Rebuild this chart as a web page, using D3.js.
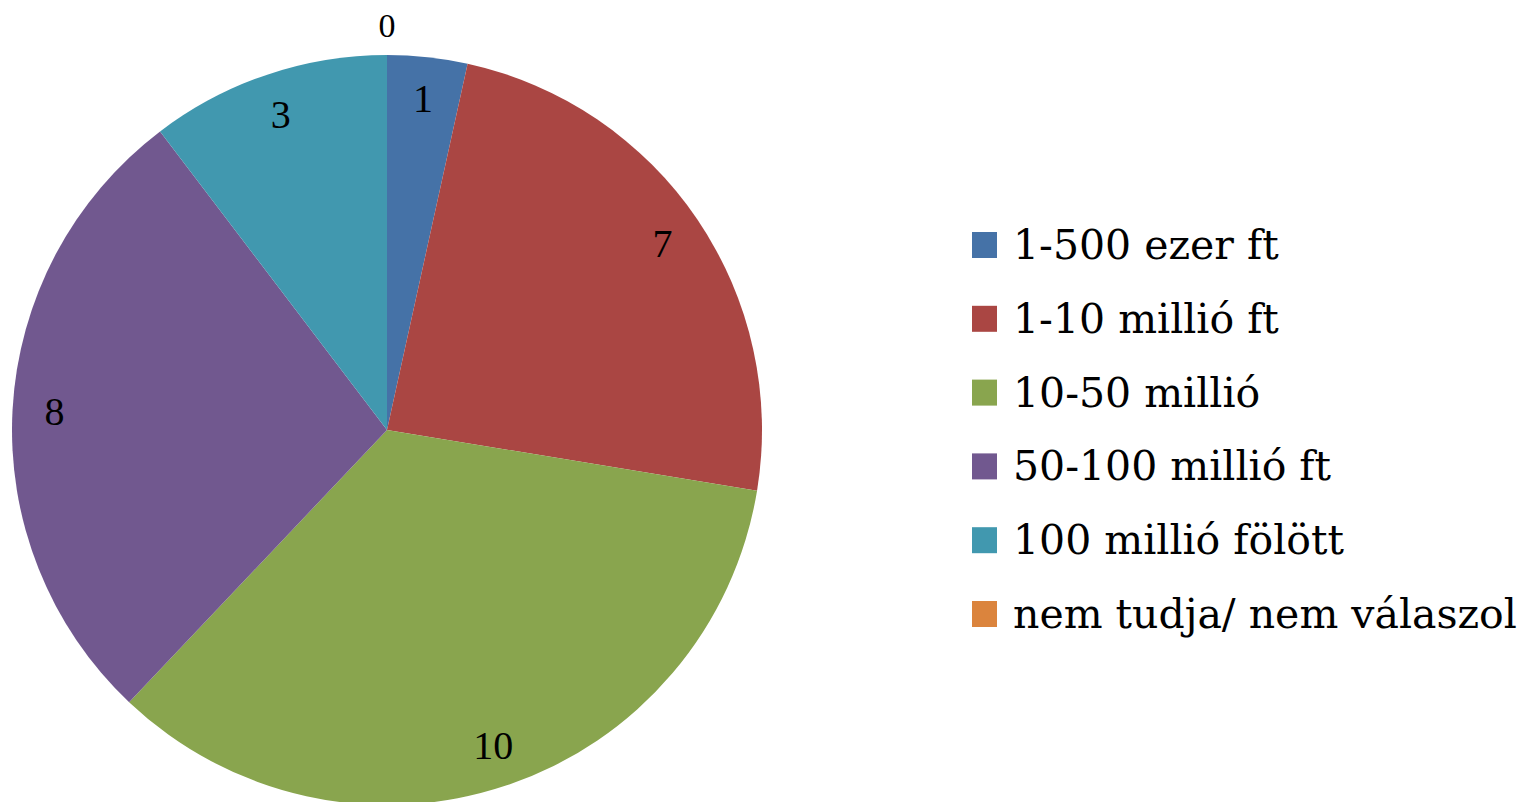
<!DOCTYPE html>
<html>
<head>
<meta charset="utf-8">
<script src="https://cdn.jsdelivr.net/npm/d3@7"></script>
<style>
  html, body { margin: 0; padding: 0; background: #ffffff; }
  svg { display: block; }
</style>
</head>
<body>
<svg id="chart" width="1528" height="802"></svg>
<script>
const categories = ["1-500 ezer ft", "1-10 millió ft", "10-50 millió", "50-100 millió ft", "100 millió fölött", "nem tudja/ nem válaszol"];
const values = [1, 7, 10, 8, 3, 0];
const colors = ["#4572a7", "#aa4643", "#89a54e", "#71588f", "#4198af", "#db843d"];

const svg = d3.select("#chart");
const cx = 387, cy = 430, R = 375;
const labelFont = "'Liberation Serif', 'DejaVu Serif', serif";
const legendFont = "'DejaVu Serif', 'Liberation Serif', serif";

const data = categories.map((c, i) => ({ cat: c, value: values[i], color: colors[i] }));

const pie = d3.pie().value(d => d.value).sort(null);
const arcs = pie(data);
const arc = d3.arc().innerRadius(0).outerRadius(R);
const labelArc = d3.arc().innerRadius(333).outerRadius(333);
const outArc = d3.arc().innerRadius(R + 30).outerRadius(R + 30);

const g = svg.append("g").attr("transform", `translate(${cx},${cy})`);

g.selectAll("path.slice")
  .data(arcs.filter(a => a.data.value > 0))
  .join("path")
  .attr("class", "slice")
  .attr("d", arc)
  .attr("fill", d => d.data.color);

g.selectAll("text.lbl")
  .data(arcs)
  .join("text")
  .attr("class", "lbl")
  .attr("transform", d => {
    const p = d.data.value > 0 ? labelArc.centroid(d) : outArc.centroid(d);
    return `translate(${p[0]},${p[1]})`;
  })
  .attr("text-anchor", "middle")
  .attr("dominant-baseline", "central")
  .attr("font-family", labelFont)
  .attr("font-size", d => d.data.value > 0 ? 40 : 34)
  .attr("fill", "#000")
  .text(d => d.data.value);

// Legend
const legendY = d3.scalePoint().domain(categories).range([245, 614]);
const item = svg.append("g").selectAll("g.item")
  .data(data)
  .join("g")
  .attr("class", "item")
  .attr("transform", d => `translate(972,${legendY(d.cat)})`);

item.append("rect")
  .attr("x", 0).attr("y", -13)
  .attr("width", 25).attr("height", 26)
  .attr("fill", d => d.color);

item.append("text")
  .attr("x", 41).attr("y", 0)
  .attr("dominant-baseline", "central")
  .attr("font-family", legendFont)
  .attr("font-size", 41)
  .attr("fill", "#000")
  .text(d => d.cat);
</script>
</body>
</html>
